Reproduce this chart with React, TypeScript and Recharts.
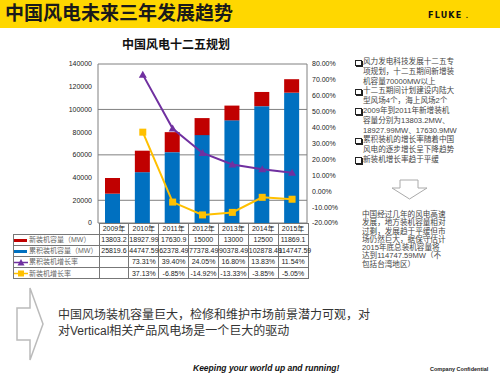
import { ComposedChart, Bar, Line, XAxis, YAxis, CartesianGrid } from "recharts";

const years = ["2009年", "2010年", "2011年", "2012年", "2013年", "2014年", "2015年"];
const newCapacity = [13803.2, 18927.99, 17630.9, 15000, 13000, 12500, 11869.1];
const totalCapacity = [25819.6, 44747.59, 62378.49, 77378.49, 90378.49, 102878.49, 114747.59];
const totalGrowth = [null, 73.31, 39.4, 24.05, 16.8, 13.83, 11.54];
const newGrowth = [null, 37.13, -6.85, -14.92, -13.33, -3.85, -5.05];
const leftTicks = [0, 20000, 40000, 60000, 80000, 100000, 120000, 140000];
const rightTicks = [-20, -10, 0, 10, 20, 30, 40, 50, 60, 70, 80];

const seriesNames = ["新装机容量（MW）", "累积装机容量（MW）", "累积装机增长率", "新装机增长率"];

const bullets = [
  ["风力发电科技发展十二五专", "项规划，十二五期间新增装", "机容量70000MW以上"],
  ["十二五期间计划建设内陆大", "型风场4个，海上风场2个"],
  ["2009年到2011年新增装机", "容量分别为13803.2MW、", "18927.99MW、17630.9MW"],
  ["累积装机的增长率随着中国", "风电的逐步增长呈下降趋势"],
  ["新装机增长率趋于平缓"],
];

const summary = [
  "中国经过几年的风电高速",
  "发展，地方装机容量相对",
  "过剩，发展趋于平缓但市",
  "场仍然巨大，据保守估计",
  "2015年底总装机容量将",
  "达到114747.59MW（不",
  "包括台湾地区）",
];

const conclusion = [
  "中国风场装机容量巨大，检修和维护市场前景潜力可观，对",
  "对Vertical相关产品风电场是一个巨大的驱动",
];

const BLUE = "#0070C0";
const RED = "#C00000";
const PURPLE = "#7030A0";
const YELLOW = "#FFC000";
const CJK = '"Liberation Sans", "Noto Sans CJK SC", sans-serif';

const data = years.map((year, i) => ({
  year,
  total: totalCapacity[i],
  added: newCapacity[i],
  totalRate: totalGrowth[i],
  newRate: newGrowth[i],
}));

const Triangle = (props: any) => {
  const { cx, cy } = props;
  if (cx == null || cy == null || props.value == null) return null;
  return <polygon points={`${cx},${cy - 4} ${cx - 4},${cy + 3} ${cx + 4},${cy + 3}`} fill={PURPLE} />;
};

const Square = (props: any) => {
  const { cx, cy } = props;
  if (cx == null || cy == null || props.value == null) return null;
  return <rect x={cx - 3.5} y={cy - 3.5} width={7} height={7} fill={YELLOW} />;
};

const pct = (v: number | null) => (v == null ? "" : v.toFixed(2) + "%");

const cell: React.CSSProperties = {
  border: "1px solid #777",
  padding: 0,
  textAlign: "center",
  whiteSpace: "nowrap",
  overflow: "visible",
  fontSize: 7,
  lineHeight: "9px",
  color: "#222",
};

function LegendKey({ i }: { i: number }) {
  if (i === 0) return <span style={{ display: "inline-block", width: 13, height: 3, background: RED, marginRight: 2, verticalAlign: "middle" }} />;
  if (i === 1) return <span style={{ display: "inline-block", width: 13, height: 3, background: BLUE, marginRight: 2, verticalAlign: "middle" }} />;
  return (
    <svg width={15} height={7} style={{ verticalAlign: "middle", display: "inline-block" }}>
      <line x1={0} y1={3.5} x2={14} y2={3.5} stroke={i === 2 ? PURPLE : YELLOW} strokeWidth={1.5} />
      {i === 2 ? (
        <polygon points="7,0 3.5,6.5 10.5,6.5" fill={PURPLE} />
      ) : (
        <rect x={4} y={0.5} width={6} height={6} fill={YELLOW} />
      )}
    </svg>
  );
}

export default function App() {
  const rows: string[][] = [
    newCapacity.map((v) => String(v)),
    totalCapacity.map((v) => String(v)),
    totalGrowth.map(pct),
    newGrowth.map(pct),
  ];

  return (
    <div style={{ position: "absolute", left: 0, top: 0, width: 500, height: 375, background: "#fff", overflow: "hidden", fontFamily: CJK }}>
      {/* header band */}
      <div style={{ position: "absolute", left: 0, top: 0, width: 500, height: 28, background: "#FFD700" }} />
      <div style={{ position: "absolute", left: 5, top: 3, fontSize: 19, fontWeight: "bold", color: "#1a1a1a", lineHeight: "22px" }}>
        中国风电未来三年发展趋势
      </div>
      <div style={{ position: "absolute", left: 428, top: 11, fontSize: 8, fontWeight: 900, letterSpacing: 1.2, color: "#111", fontFamily: '"DejaVu Sans", sans-serif', lineHeight: "9px" }}>
        FLUKE<span style={{ fontSize: 6 }}> .</span>
      </div>

      {/* chart title */}
      <div style={{ position: "absolute", left: 122, top: 38, fontSize: 12, fontWeight: "bold", color: "#111", lineHeight: "14px" }}>
        中国风电十二五规划
      </div>

      {/* chart */}
      <div style={{ position: "absolute", left: 0, top: 55 }}>
        <ComposedChart width={360} height={180} data={data} margin={{ top: 9, right: 0, bottom: 12, left: 0 }} barSize={15}>
          <CartesianGrid yAxisId="l" vertical={false} stroke="#808080" />
          <XAxis dataKey="year" hide />
          <YAxis
            yAxisId="l"
            domain={[0, 140000]}
            ticks={leftTicks}
            width={98}
            axisLine={{ stroke: "#808080" }}
            tickLine={false}
            tickSize={4}
            tickMargin={2}
            tick={{ fontSize: 7, fill: "#222" }}
          />
          <YAxis
            yAxisId="r"
            orientation="right"
            domain={[-20, 80]}
            ticks={rightTicks}
            width={53}
            axisLine={{ stroke: "#808080" }}
            tickLine={false}
            tickSize={3}
            tickMargin={2}
            tickFormatter={(v: number) => v.toFixed(2) + "%"}
            tick={{ fontSize: 7, fill: "#222", textAnchor: "start" }}
          />
          <Bar yAxisId="l" dataKey="total" stackId="a" fill={BLUE} isAnimationActive={false} />
          <Bar yAxisId="l" dataKey="added" stackId="a" fill={RED} isAnimationActive={false} />
          <Line yAxisId="r" dataKey="totalRate" stroke={PURPLE} strokeWidth={2} dot={<Triangle />} isAnimationActive={false} />
          <Line yAxisId="r" dataKey="newRate" stroke={YELLOW} strokeWidth={2} dot={<Square />} isAnimationActive={false} />
        </ComposedChart>
      </div>

      {/* data table */}
      <table style={{ position: "absolute", left: 13, top: 223, borderCollapse: "collapse", tableLayout: "fixed", width: 294.5, fontFamily: CJK }}>
        <colgroup>
          <col style={{ width: 85.5 }} />
          {years.map((y) => (
            <col key={y} style={{ width: 29.86 }} />
          ))}
        </colgroup>
        <tbody>
          <tr style={{ height: 10.5 }}>
            <td style={{ ...cell, border: "none", borderBottom: "1px solid #777" }} />
            {years.map((y) => (
              <td key={y} style={cell}>{y}</td>
            ))}
          </tr>
          {rows.map((r, i) => (
            <tr key={i} style={{ height: 11.2 }}>
              <td style={{ ...cell, textAlign: "left", color: "#666", fontSize: 7 }}>
                <LegendKey i={i} />
                {seriesNames[i]}
              </td>
              {r.map((v, j) => (
                <td key={j} style={cell}>{v}</td>
              ))}
            </tr>
          ))}
        </tbody>
      </table>

      {/* right bullets */}
      <div style={{ position: "absolute", left: 355, top: 57, fontSize: 7.6, lineHeight: "9.8px", color: "#444" }}>
        {bullets.map((b, i) => (
          <div key={i} style={{ position: "relative", paddingLeft: 8 }}>
            <span style={{ position: "absolute", left: 0, top: 2.5, width: 4.5, height: 4.5, border: "1px solid #222", boxShadow: "1px 1px 0 #222" }} />
            {b.map((line, k) => (
              <div key={k} style={{ whiteSpace: "nowrap" }}>{line}</div>
            ))}
          </div>
        ))}
      </div>

      {/* arrows */}
      <svg style={{ position: "absolute", left: 0, top: 0 }} width={500} height={375}>
        <polygon points="400,180 418,180 418,188 427,188 409.5,199 392,188 400,188" fill="#fff" stroke="#aaa" strokeWidth={1} />
        <polygon points="17,308 30,308 30,288 43,324 30,360 30,340 17,340" fill="#fff" stroke="#bbb" strokeWidth={1.5} />
      </svg>

      {/* summary paragraph */}
      <div style={{ position: "absolute", left: 362, top: 211, fontSize: 7.6, lineHeight: "8.3px", color: "#444" }}>
        {summary.map((s, i) => (
          <div key={i} style={{ whiteSpace: "nowrap" }}>{s}</div>
        ))}
      </div>

      {/* conclusion */}
      <div style={{ position: "absolute", left: 58, top: 308, fontSize: 12, lineHeight: "15.5px", color: "#333" }}>
        {conclusion.map((s, i) => (
          <div key={i} style={{ whiteSpace: "nowrap" }}>{s}</div>
        ))}
      </div>

      {/* footer */}
      <div style={{ position: "absolute", left: 193, top: 363, fontSize: 8.5, fontWeight: "bold", fontStyle: "italic", color: "#111", lineHeight: "11px" }}>
        Keeping your world up and running!
      </div>
      <div style={{ position: "absolute", left: 430, top: 365, fontSize: 5.5, fontWeight: "bold", color: "#222", lineHeight: "8px" }}>
        Company Confidential
      </div>
    </div>
  );
}
